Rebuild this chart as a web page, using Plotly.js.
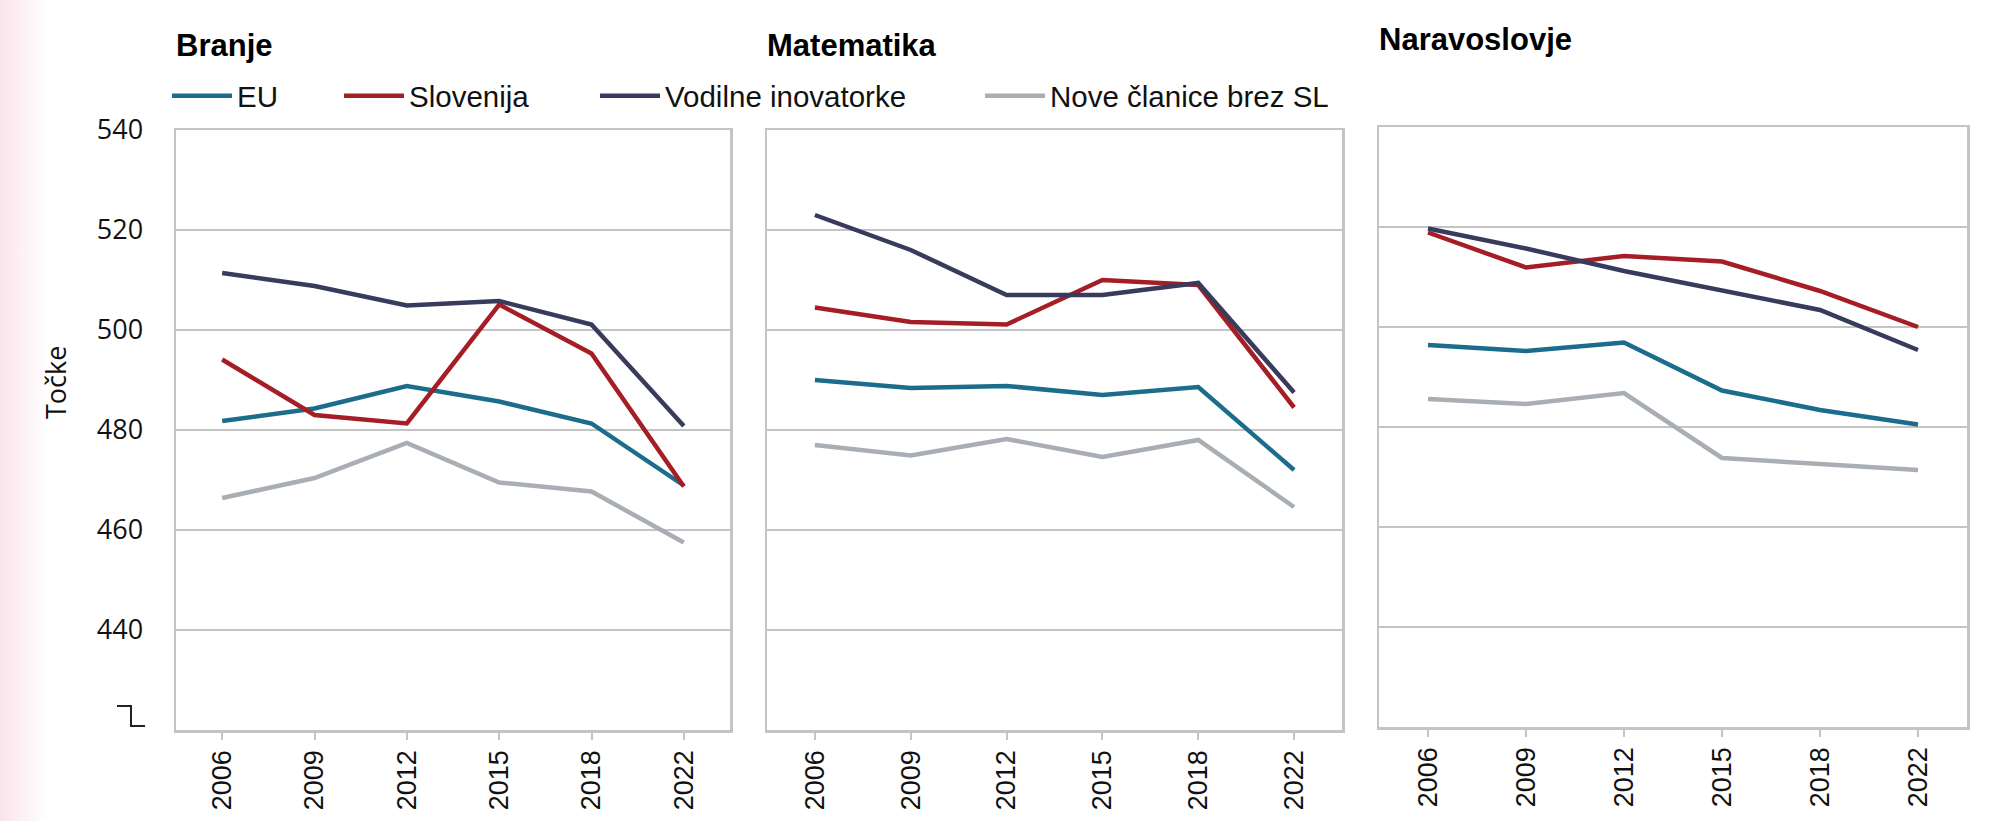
<!DOCTYPE html>
<html>
<head>
<meta charset="utf-8">
<script src="https://cdn.plot.ly/plotly-3.0.1.min.js"></script>
<style>
  html, body { margin: 0; padding: 0; }
  body {
    width: 2016px; height: 821px; overflow: hidden;
    background: linear-gradient(90deg, #fbe4ec 0px, #fdf1f5 22px, #ffffff 48px);
  }
  #chart { width: 2016px; height: 821px; }
</style>
</head>
<body>
<div id="chart"></div>
<script>
// PISA scores (Točke) by field

const years = ['2006', '2009', '2012', '2015', '2018', '2022'];
const seriesNames = ['EU', 'Slovenija', 'Vodilne inovatorke', 'Nove članice brez SL'];
const panelTitles = ['Branje', 'Matematika', 'Naravoslovje'];
const yTicks = [440, 460, 480, 500, 520, 540];

// Branje
const readEU = [481.8, 484.3, 488.8, 485.7, 481.3, 468.9];
const readSlo = [494.1, 483.0, 481.3, 505.1, 495.3, 468.7];
const readLead = [511.4, 508.8, 504.9, 505.8, 501.1, 480.8];
const readNew = [466.4, 470.4, 477.4, 469.5, 467.7, 457.5];

// Matematika
const mathEU = [490.0, 488.4, 488.8, 487.0, 488.6, 472.0];
const mathSlo = [504.5, 501.6, 501.1, 510.0, 509.0, 484.5];
const mathLead = [523.0, 516.0, 507.0, 507.0, 509.4, 487.5];
const mathNew = [477.0, 474.9, 478.2, 474.6, 478.0, 464.6];

// Naravoslovje
const sciEU = [496.4, 495.2, 496.9, 487.3, 483.4, 480.5];
const sciSlo = [518.9, 511.9, 514.2, 513.1, 507.2, 500.0];
const sciLead = [519.7, 515.7, 511.2, 507.4, 503.4, 495.4];
const sciNew = [485.6, 484.6, 486.8, 473.8, 472.6, 471.4];

const W = 2016;
const H = 821;
const COLORS = ['#1b6d8b', '#a51d25', '#383b5c', '#a9aeb4'];
const FRAME = '#c4c4c4';
const LEGENDS = ['legend', 'legend2', 'legend3', 'legend4'];

// pixel -> paper helpers
const px = (x) => x / W;
const py = (y) => 1 - y / H;

function init() {
    drawChart();
}

function drawChart() {
    const panels = [
        [readEU, readSlo, readLead, readNew],
        [mathEU, mathSlo, mathLead, mathNew],
        [sciEU, sciSlo, sciLead, sciNew],
    ];

    // panel frames in pixels: [left, right, top, bottom]
    const boxes = [
        [176, 730, 130, 730],
        [767, 1342, 130, 730],
        [1379, 1967, 127, 727],
    ];

    const traces = [];
    panels.forEach((series, p) => {
        const suffix = p === 0 ? '' : String(p + 1);
        series.forEach((values, s) => {
            traces.push({
                x: years,
                y: values,
                xaxis: 'x' + suffix,
                yaxis: 'y' + suffix,
                type: 'scatter',
                mode: 'lines',
                name: seriesNames[s],
                line: {color: COLORS[s], width: 4.5},
                showlegend: p === 0,
                legend: LEGENDS[s],
                hoverinfo: 'skip',
            });
        });
    });

    const layout = {
        width: W,
        height: H,
        margin: {l: 0, r: 0, t: 0, b: 0},
        paper_bgcolor: 'rgba(0,0,0,0)',
        plot_bgcolor: '#ffffff',
        font: {family: 'Liberation Sans, Arial, sans-serif', color: '#111111'},
        annotations: [],
        shapes: [],
    };

    boxes.forEach((b, p) => {
        const suffix = p === 0 ? '' : String(p + 1);
        layout['xaxis' + suffix] = {
            type: 'category',
            domain: [px(b[0]), px(b[1])],
            range: [-0.5, 5.5],
            anchor: 'y' + suffix,
            fixedrange: true,
            showline: true,
            mirror: true,
            linecolor: FRAME,
            linewidth: 2.5,
            showgrid: false,
            zeroline: false,
            ticks: 'outside',
            ticklen: 7,
            tickwidth: 2,
            tickcolor: FRAME,
            tickangle: -90,
            ticklabelstandoff: 0,
            tickfont: {family: 'Liberation Sans, Arial, sans-serif', size: 27, color: '#111111'},
        };
        layout['yaxis' + suffix] = {
            domain: [py(b[3]), py(b[2])],
            range: [420, 540],
            anchor: 'x' + suffix,
            fixedrange: true,
            tickmode: 'array',
            tickvals: yTicks,
            showticklabels: p === 0,
            showline: true,
            mirror: true,
            linecolor: FRAME,
            linewidth: 2.5,
            showgrid: true,
            gridcolor: FRAME,
            gridwidth: 2.5,
            zeroline: false,
            ticks: '',
            ticklabelstandoff: 25,
            tickfont: {family: 'Open Sans, sans-serif', size: 27, color: '#111111'},
        };

        layout.annotations.push({
            text: '<b>' + panelTitles[p] + '</b>',
            xref: 'paper', yref: 'paper',
            x: px(b[0] - 2), y: py(p === 2 ? 40 : 45),
            xanchor: 'left', yanchor: 'middle',
            showarrow: false,
            font: {family: 'Liberation Sans, Arial, sans-serif', size: 31, color: '#000000'},
        });
    });

    // y axis title
    layout.annotations.push({
        text: 'Točke',
        xref: 'paper', yref: 'paper',
        x: px(55), y: py(383),
        xanchor: 'center', yanchor: 'middle',
        textangle: -90,
        showarrow: false,
        font: {family: 'Open Sans, sans-serif', size: 27, color: '#111111'},
    });

    // axis break mark below the y labels
    layout.shapes.push({
        type: 'path',
        xref: 'paper', yref: 'paper',
        path: 'M ' + px(117) + ' ' + py(706) + ' L ' + px(131) + ' ' + py(706) +
              ' L ' + px(131) + ' ' + py(726) + ' L ' + px(145) + ' ' + py(726),
        line: {color: '#222222', width: 2},
    });

    // one legend per series so each item sits where the picture has it
    const legendX = [172, 344, 600, 985];
    legendX.forEach((x, s) => {
        layout[LEGENDS[s]] = {
            orientation: 'h',
            x: px(x - 5),
            y: py(96),
            xanchor: 'left',
            yanchor: 'middle',
            bgcolor: 'rgba(0,0,0,0)',
            borderwidth: 0,
            itemwidth: 60,
            font: {family: 'Liberation Sans, Arial, sans-serif', size: 29.5, color: '#111111'},
        };
    });

    const config = {
        staticPlot: true,
        displayModeBar: false,
    };

    Plotly.newPlot('chart', traces, layout, config);
}

init();
</script>
</body>
</html>
